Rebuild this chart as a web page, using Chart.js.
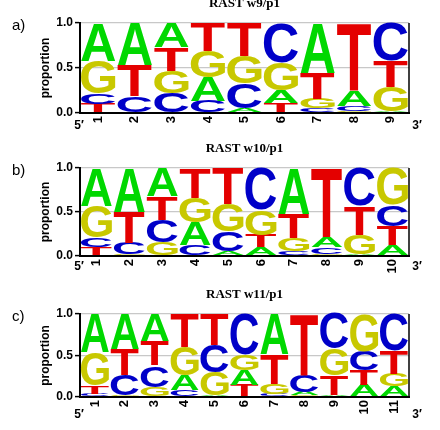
<!DOCTYPE html>
<html lang="en">
<head>
<meta charset="UTF-8">
<title>RAST sequence logos</title>
<style>
  body { margin: 0; background: #fff; width: 440px; height: 430px; overflow: hidden; position: relative; }
  .panel { position: absolute; left: 0; width: 440px; }
</style>
</head>
<body>
<div class="panel" style="top:-7px"><canvas id="chartA" width="440" height="145"></canvas></div>
<div class="panel" style="top:138px"><canvas id="chartB" width="440" height="146"></canvas></div>
<div class="panel" style="top:284px"><canvas id="chartC" width="440" height="146"></canvas></div>

<script src="https://cdn.jsdelivr.net/npm/chart.js@4.4.1/dist/chart.umd.min.js"></script>
<script>
// base colours as used in the logos
const baseColors = { A: '#00d800', C: '#0000c8', G: '#c8c800', T: '#e40000' };
const yTicks = [0, 0.5, 1.0];

// RAST w9/p1 - proportion of each base per position
const w9Pos = ['1','2','3','4','5','6','7','8','9'];
const w9A = [0.42, 0.47, 0.27, 0.27, 0.05, 0.14, 0.55, 0.17, 0.02];
const w9C = [0.12, 0.18, 0.22, 0.13, 0.28, 0.44, 0.05, 0.06, 0.42];
const w9G = [0.36, 0.01, 0.25, 0.29, 0.30, 0.31, 0.11, 0.02, 0.27];
const w9T = [0.10, 0.34, 0.26, 0.31, 0.37, 0.11, 0.29, 0.75, 0.29];

// RAST w10/p1
const w10Pos = ['1','2','3','4','5','6','7','8','9','10'];
const w10A = [0.43, 0.50, 0.32, 0.26, 0.05, 0.10, 0.52, 0.12, 0.02, 0.12];
const w10C = [0.11, 0.13, 0.25, 0.12, 0.23, 0.47, 0.05, 0.08, 0.43, 0.24];
const w10G = [0.36, 0.02, 0.16, 0.28, 0.31, 0.29, 0.15, 0.02, 0.22, 0.42];
const w10T = [0.10, 0.35, 0.27, 0.34, 0.41, 0.14, 0.28, 0.78, 0.33, 0.22];

// RAST w11/p1
const w11Pos = ['1','2','3','4','5','6','7','8','9','10','11'];
const w11A = [0.46, 0.42, 0.32, 0.18, 0.02, 0.18, 0.48, 0.04, 0.02, 0.14, 0.13];
const w11C = [0.04, 0.25, 0.26, 0.08, 0.33, 0.49, 0.04, 0.20, 0.42, 0.23, 0.44];
const w11G = [0.40, 0.02, 0.12, 0.34, 0.28, 0.19, 0.12, 0.02, 0.32, 0.45, 0.15];
const w11T = [0.10, 0.31, 0.30, 0.40, 0.37, 0.14, 0.36, 0.74, 0.24, 0.18, 0.28];

// stack letters smallest at the bottom: one dataset per rank
function rankDatasets(A, C, G, T) {
  const sets = [0, 1, 2, 3].map(() => ({ data: [], letters: [], backgroundColor: 'rgba(0,0,0,0)', borderWidth: 0 }));
  A.forEach((_, i) => {
    const col = [['A', A[i]], ['C', C[i]], ['G', G[i]], ['T', T[i]]].sort((p, q) => p[1] - q[1]);
    col.forEach((p, r) => { sets[r].letters.push(p[0]); sets[r].data.push(p[1]); });
  });
  return sets;
}

function drawLetter(ctx, letter, left, top, w, h) {
  ctx.save();
  ctx.font = 'bold 100px "Liberation Sans", Arial, sans-serif';
  ctx.textAlign = 'left';
  ctx.textBaseline = 'alphabetic';
  const m = ctx.measureText(letter);
  const gw = m.actualBoundingBoxLeft + m.actualBoundingBoxRight;
  const gh = m.actualBoundingBoxAscent + m.actualBoundingBoxDescent;
  ctx.translate(left, top);
  ctx.scale(w / gw, h / gh);
  ctx.fillStyle = baseColors[letter];
  ctx.fillText(letter, m.actualBoundingBoxLeft, m.actualBoundingBoxAscent);
  ctx.restore();
}

const logoPlugin = {
  id: 'logo',
  afterDatasetsDraw(chart) {
    const ctx = chart.ctx;
    chart.data.datasets.forEach((ds, di) => {
      chart.getDatasetMeta(di).data.forEach((bar, i) => {
        const p = bar.getProps(['x', 'y', 'base', 'width'], true);
        const top = Math.min(p.y, p.base), h = Math.abs(p.base - p.y);
        if (h < 0.5) return;
        drawLetter(ctx, ds.letters[i], p.x - p.width / 2, top, p.width, h);
      });
    });
  },
  afterDraw(chart, args, opts) {
    const ctx = chart.ctx, a = chart.chartArea;
    ctx.save();
    ctx.strokeStyle = '#000';
    ctx.lineWidth = 1.5;
    ctx.beginPath();
    ctx.moveTo(a.right, a.top);
    ctx.lineTo(a.right, a.bottom);
    ctx.stroke();
    ctx.fillStyle = '#000';
    ctx.textBaseline = 'middle';
    ctx.textAlign = 'left';
    ctx.font = '15px "Liberation Sans", Arial, sans-serif';
    ctx.fillText(opts.tag, 12, a.top + 3);
    ctx.textAlign = 'center';
    ctx.font = 'bold 12px "Liberation Sans", Arial, sans-serif';
    ctx.fillText('5\u2032', a.left - 1, a.bottom + opts.primeGap);
    ctx.fillText('3\u2032', a.right + 8, a.bottom + opts.primeGap);
    ctx.restore();
  }
};

function makeLogo(canvasId, title, tag, positions, A, C, G, T, xHeight, primeGap) {
  const tickFont = { family: '"Liberation Sans", Arial, sans-serif', weight: 'bold', size: 12 };
  return new Chart(document.getElementById(canvasId), {
    type: 'bar',
    data: { labels: positions, datasets: rankDatasets(A, C, G, T) },
    plugins: [logoPlugin],
    options: {
      responsive: false,
      animation: false,
      events: [],
      layout: { padding: { left: 0, right: 31, top: 0, bottom: 0 } },
      datasets: { bar: { barPercentage: 0.94, categoryPercentage: 1.0 } },
      plugins: {
        legend: { display: false },
        tooltip: { enabled: false },
        title: {
          display: true,
          text: title,
          fullSize: false,
          color: '#000',
          font: { family: '"Liberation Serif", "Times New Roman", serif', weight: 'bold', size: 13 },
          padding: { top: 3, bottom: 11.4 }
        },
        logo: { tag: tag, primeGap: primeGap }
      },
      scales: {
        x: {
          stacked: true,
          offset: true,
          grid: { display: false, drawTicks: false },
          border: { color: '#000', width: 2 },
          ticks: { color: '#000', font: { ...tickFont, size: 13 }, minRotation: 90, maxRotation: 90, padding: 3, autoSkip: false },
          afterFit(s) { s.height = xHeight; }
        },
        y: {
          stacked: true,
          min: 0,
          max: 1,
          afterBuildTicks(s) { s.ticks = yTicks.map(v => ({ value: v })); },
          ticks: { color: '#000', font: tickFont, padding: 2, callback: v => v.toFixed(1) },
          grid: { color: '#c8c8c8', lineWidth: 1.2, tickColor: '#000', tickLength: 5, tickWidth: 1.5 },
          border: { color: '#000', width: 2 },
          title: {
            display: true,
            text: 'proportion',
            color: '#000',
            font: { family: '"Liberation Sans", Arial, sans-serif', weight: 'bold', size: 12 },
            padding: { top: 38, bottom: 0 }
          },
          afterFit(s) { s.width = 80; }
        }
      }
    }
  });
}

makeLogo('chartA', 'RAST w9/p1', 'a)', w9Pos, w9A, w9C, w9G, w9T, 25, 13);
makeLogo('chartB', 'RAST w10/p1', 'b)', w10Pos, w10A, w10C, w10G, w10T, 28, 11);
makeLogo('chartC', 'RAST w11/p1', 'c)', w11Pos, w11A, w11C, w11G, w11T, 33, 18);
</script>
</body>
</html>
